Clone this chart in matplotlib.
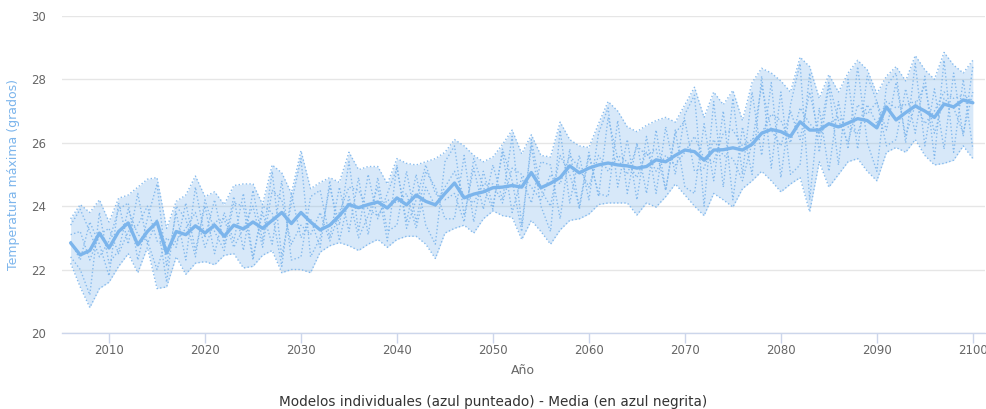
import matplotlib as mpl

mpl.use('Agg')
import matplotlib.pyplot as plt
import numpy as np

#### Data ####
years = np.arange(2006, 2101)

media = [22.84, 22.46, 22.6, 23.15, 22.68, 23.2, 23.47, 22.78, 23.2, 23.5,
         22.52, 23.2, 23.1, 23.38, 23.15, 23.4, 23.05, 23.4, 23.28, 23.5,
         23.3, 23.55, 23.8, 23.45, 23.8, 23.5, 23.25, 23.4, 23.7, 24.05,
         23.95, 24.05, 24.13, 23.94, 24.26, 24.04, 24.35, 24.15, 24.04, 24.4,
         24.73, 24.26, 24.38, 24.45, 24.58, 24.6, 24.65, 24.6, 25.06, 24.58,
         24.72, 24.9, 25.27, 25.05, 25.2, 25.3, 25.36, 25.3, 25.27, 25.2,
         25.25, 25.46, 25.4, 25.6, 25.77, 25.72, 25.45, 25.77, 25.78, 25.84,
         25.77, 25.95, 26.3, 26.42, 26.35, 26.2, 26.66, 26.4, 26.4, 26.6,
         26.5, 26.62, 26.76, 26.7, 26.47, 27.13, 26.72, 26.95, 27.16, 27.0,
         26.8, 27.22, 27.13, 27.35, 27.26]

maximo = [23.6, 24.05, 23.8, 24.2, 23.5, 24.25, 24.35, 24.6, 24.85, 24.9,
          23.3, 24.15, 24.35, 24.95, 24.3, 24.45, 24.05, 24.65, 24.7, 24.7,
          24.05, 25.3, 25.05, 24.4, 25.75, 24.55, 24.75, 24.9, 24.75, 25.7,
          25.15, 25.25, 25.25, 24.7, 25.5, 25.35, 25.3, 25.4, 25.5, 25.7,
          26.1, 25.9, 25.6, 25.4, 25.55, 25.95, 26.4, 25.65, 26.25, 25.6,
          25.55, 26.65, 26.1, 25.9, 25.85, 26.6, 27.3, 27.0, 26.5, 26.35,
          26.55, 26.7, 26.8, 26.65, 27.2, 27.75, 26.8, 27.6, 27.2, 27.65,
          26.7, 27.9, 28.35, 28.2, 27.95, 27.6, 28.7, 28.4, 27.4, 28.15,
          27.6, 28.2, 28.6, 28.3, 27.55, 28.1, 28.4, 27.95, 28.75, 28.3,
          28.0, 28.85, 28.45, 28.2, 28.6]

minimo = [22.2, 21.45, 20.8, 21.4, 21.6, 22.1, 22.5, 21.9, 22.7, 21.4,
          21.45, 22.4, 21.85, 22.2, 22.25, 22.15, 22.45, 22.5, 22.05, 22.1,
          22.45, 22.6, 21.9, 22.0, 22.0, 21.9, 22.55, 22.75, 22.85, 22.75,
          22.6, 22.8, 22.95, 22.7, 22.95, 23.05, 23.05, 22.8, 22.35, 23.15,
          23.3, 23.4, 23.15, 23.6, 23.85, 23.7, 23.65, 22.95, 23.55, 23.2,
          22.8, 23.25, 23.55, 23.6, 23.75, 24.05, 24.1, 24.1, 24.1, 23.72,
          24.1, 23.97, 24.3, 24.7, 24.35, 24.0, 23.7, 24.4, 24.2, 23.97,
          24.55, 24.8, 25.1, 24.8, 24.45, 24.7, 24.9, 23.82, 25.4, 24.6,
          25.0, 25.4, 25.5, 25.1, 24.8, 25.7, 25.85, 25.7, 26.1, 25.6,
          25.3, 25.35, 25.45, 25.9, 25.5]

modelo_a = [23.4, 23.9, 23.2, 22.4, 22.9, 23.9, 24.1, 22.3, 23.6, 24.7,
            22.1, 23.8, 22.3, 24.6, 23.0, 24.2, 22.8, 24.3, 22.6, 24.5,
            22.9, 25.1, 22.4, 24.1, 25.5, 22.4, 23.0, 24.6, 23.4, 25.4,
            23.2, 25.0, 23.6, 24.4, 25.2, 23.5, 25.0, 23.4, 22.8, 25.4,
            25.9, 23.7, 25.2, 23.9, 25.3, 24.2, 26.2, 23.4, 25.9, 24.0,
            23.2, 26.4, 24.1, 25.6, 24.2, 26.3, 27.1, 24.6, 26.1, 24.2,
            26.2, 24.4, 26.5, 25.0, 26.9, 27.5, 24.0, 27.3, 24.6, 27.4,
            25.0, 27.6, 25.6, 27.9, 24.9, 27.2, 28.5, 24.2, 27.1, 25.1,
            27.3, 25.8, 28.4, 26.0, 25.1, 27.8, 28.2, 26.0, 28.5, 25.9,
            27.7, 25.8, 28.2, 26.2, 28.4]

modelo_b = [22.4, 22.0, 21.2, 23.8, 22.2, 22.6, 23.9, 23.1, 22.9, 22.0,
            23.0, 22.7, 24.1, 22.6, 24.0, 22.5, 23.8, 22.9, 24.4, 22.4,
            23.8, 22.8, 24.8, 22.3, 22.4, 24.3, 24.5, 23.0, 24.6, 23.2,
            24.9, 23.1, 24.9, 23.2, 23.4, 25.1, 23.5, 25.1, 24.6, 23.6,
            23.6, 25.6, 23.5, 25.1, 24.0, 25.7, 23.8, 24.9, 24.1, 25.4,
            25.3, 23.6, 25.8, 23.9, 25.6, 24.4, 24.3, 26.7, 24.4, 26.0,
            24.4, 26.4, 24.5, 26.4, 24.6, 24.4, 26.6, 24.8, 27.0, 24.2,
            26.5, 25.0, 28.1, 25.2, 27.6, 25.0, 25.3, 28.2, 25.7, 27.8,
            25.3, 28.0, 25.8, 28.1, 27.3, 25.9, 26.1, 27.7, 26.3, 28.1,
            25.5, 28.6, 25.7, 28.0, 25.8]

modelo_c = [22.9, 22.3, 23.5, 22.8, 21.8, 24.1, 22.8, 24.4, 22.8, 23.6,
            21.6, 24.0, 23.6, 22.4, 24.2, 23.2, 22.6, 24.1, 24.0, 22.3,
            24.0, 23.8, 22.1, 24.4, 23.0, 23.6, 22.7, 24.8, 22.9, 24.3,
            23.0, 23.7, 24.6, 22.9, 25.3, 23.3, 24.2, 25.3, 24.4, 24.2,
            24.4, 23.5, 25.5, 24.6, 23.9, 25.8, 24.8, 23.2, 26.1, 24.5,
            24.0, 25.6, 25.0, 24.0, 25.7, 24.3, 26.8, 25.5, 25.0, 25.9,
            25.6, 25.8, 24.5, 26.3, 26.7, 25.1, 25.2, 26.1, 25.6, 25.5,
            24.8, 26.0, 27.8, 26.4, 25.9, 27.0, 26.1, 27.6, 26.2, 27.9,
            26.7, 26.0, 27.2, 26.9, 27.3, 26.4, 27.9, 26.2, 27.2, 27.8,
            26.3, 27.4, 27.1, 26.3, 27.6]

modelo_d = [23.1, 23.2, 22.3, 23.1, 23.3, 22.5, 23.2, 23.4, 24.0, 22.9,
            22.7, 22.9, 23.3, 23.8, 22.7, 23.5, 23.6, 22.7, 23.3, 24.0,
            22.7, 24.5, 24.2, 22.8, 23.4, 23.1, 23.8, 22.9, 23.8, 24.6,
            24.5, 23.9, 23.7, 24.2, 24.1, 24.4, 23.3, 24.6, 24.0, 24.6,
            25.1, 24.3, 24.1, 24.7, 24.7, 24.1, 25.2, 25.0, 24.6, 24.2,
            25.0, 24.7, 25.6, 25.2, 24.6, 25.6, 25.1, 25.6, 25.4, 24.9,
            25.7, 25.1, 25.6, 25.3, 25.7, 26.2, 25.5, 25.4, 26.3, 26.4,
            25.9, 26.1, 26.3, 26.9, 26.7, 26.0, 27.1, 26.6, 26.3, 26.6,
            26.8, 26.5, 26.3, 27.2, 26.6, 27.3, 27.1, 27.2, 27.3, 26.6,
            27.0, 27.6, 27.4, 27.5, 27.3]

x_ticks = list(range(2010, 2101, 10))
y_ticks = [20, 22, 24, 26, 28, 30]

#### Plot ####
azul = '#7cb5ec'
gris = '#666666'

fig = plt.figure(figsize=(9.87, 4.09), dpi=100)
ax = fig.add_axes([0.0628, 0.186, 0.935, 0.775])

ax.fill_between(years, minimo, maximo, color=azul, alpha=0.3, lw=0, zorder=1)
for serie in [maximo, minimo, modelo_a, modelo_b, modelo_c, modelo_d]:
    ax.plot(years, serie, color=azul, lw=1, ls=(0, (1, 1.6)), alpha=0.9, zorder=2)
ax.plot(years, media, color=azul, lw=2.4, zorder=3, solid_capstyle='round')

ax.set_xlim(2005.1, 2101.25)
ax.set_ylim(20, 30)
ax.set_xticks(x_ticks)
ax.set_yticks(y_ticks)
ax.grid(axis='y', color='#e6e6e6', lw=1)
ax.set_axisbelow(True)

for s in ['top', 'right', 'left']:
    ax.spines[s].set_visible(False)
ax.spines['bottom'].set_color('#ccd6eb')
ax.spines['bottom'].set_linewidth(1)

ax.tick_params(axis='x', colors='#ccd6eb', length=7.2, width=1, labelcolor=gris,
               labelsize=8.5, pad=1)
ax.tick_params(axis='y', length=0, labelcolor=gris, labelsize=8.5, pad=11.5)

ax.set_xlabel('Año', color=gris, fontsize=9, labelpad=5)
ax.set_ylabel('Temperatura máxima (grados)', color=azul, fontsize=9)
ax.yaxis.set_label_coords(-0.0455, 0.5)

fig.text(0.5, 0.0, 'Modelos individuales (azul punteado) - Media (en azul negrita)',
         ha='center', va='bottom', color='#333333', fontsize=9.8)

plt.savefig('out.png', dpi=100)
